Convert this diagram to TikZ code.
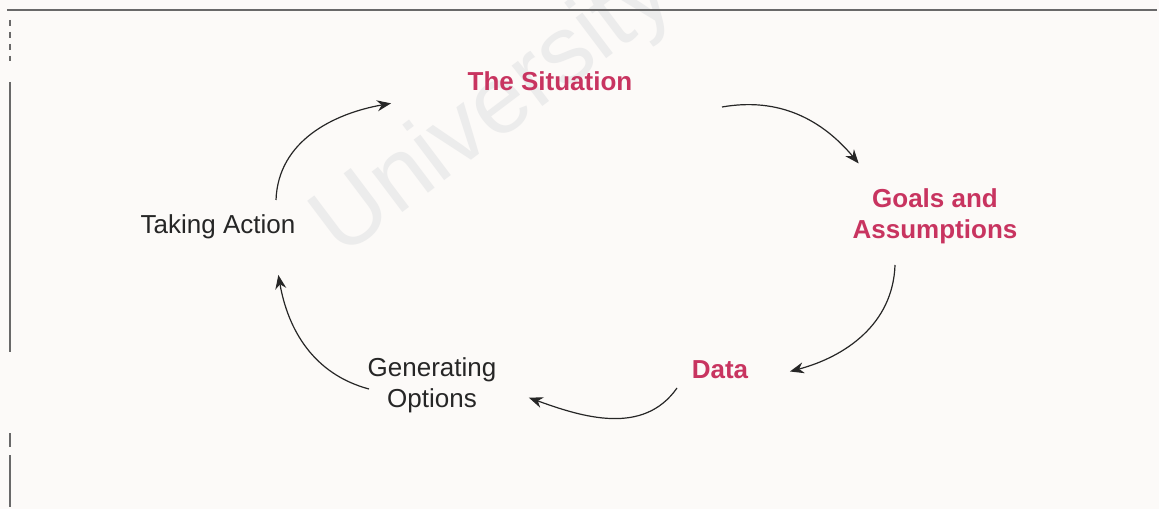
\documentclass[tikz,border=0pt]{standalone}
\usepackage{fontspec}
\setmainfont{Liberation Sans}
\usetikzlibrary{arrows.meta}

\definecolor{paper}{RGB}{252,250,248}
\definecolor{keyred}{RGB}{200,52,96}
\definecolor{inkgray}{RGB}{38,38,38}
\definecolor{framegray}{RGB}{105,105,105}

\begin{document}
\begin{tikzpicture}[x=0.5pt,y=0.5pt,>={Stealth[length=7pt,width=5.5pt]},
                    shorten >=1pt,line width=0.6pt,
                    main node/.style={align=center,inner sep=0pt,text=inkgray,
                      font=\fontsize{13}{15.5}\selectfont},
                    key node/.style={main node,text=keyred,
                      font=\fontsize{13}{15.5}\selectfont\bfseries}]
  \useasboundingbox[fill=paper] (0,0) rectangle (1159,509);
  % watermark and frame
  \node[text=gray!15,font=\fontsize{48}{48}\selectfont,rotate=37] (mark) at (495,397) {University};
  \draw[framegray,line width=0.75pt] (7,499) -- (1159,499);
  \draw[framegray,line width=0.75pt,dashed] (10,489) -- (10,446);
  \draw[framegray,line width=0.75pt] (10,427) -- (10,157) (10,76) -- (10,62) (10,54) -- (10,0);
  % steps of the cycle
  \node[key node]  (sit)   at (550,428) {The Situation};
  \node[key node]  (goals) at (935,293) {Goals and\\Assumptions};
  \node[key node]  (data)  at (720,139) {Data};
  \node[main node] (gen)   at (432,124) {Generating\\Options};
  \node[main node] (take)  at (218,282) {Taking Action};
  \path[every edge/.append style={->,draw=inkgray}]
    ([shift={(58,27)}]take.center)   edge [out=88,in=190]   ([shift={(-157,-22)}]sit.center)
    ([shift={(172,-26)}]sit.center)  edge [out=10,in=130]   ([shift={(-75,51)}]goals.center)
    ([shift={(-40,-49)}]goals.center) edge [out=-92,in=15]  ([shift={(68,-2)}]data.center)
    ([shift={(-43,-18)}]data.center) edge [out=-125,in=-20] ([shift={(95,-12)}]gen.center)
    ([shift={(-63,-4)}]gen.center)   edge [out=165,in=-80]  ([shift={(60,-46)}]take.center)
    ;
\end{tikzpicture}
\end{document}
